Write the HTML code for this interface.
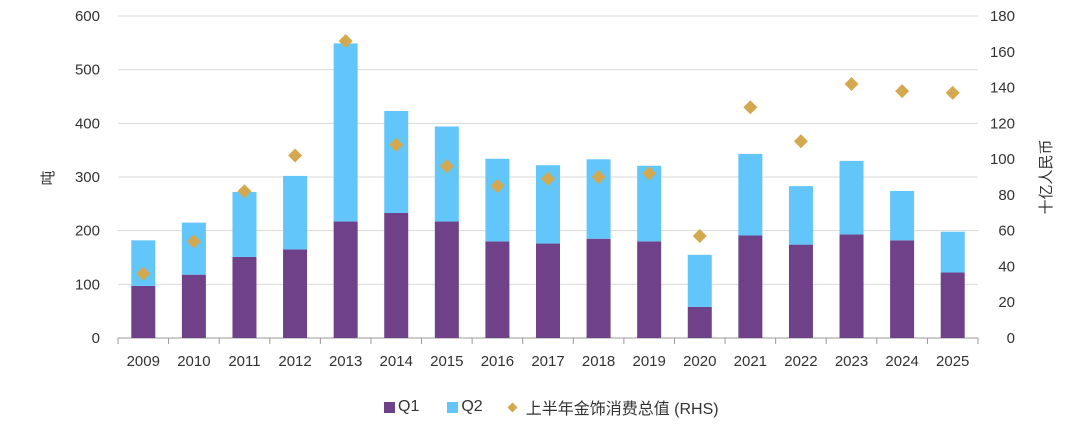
<!DOCTYPE html>
<html><head><meta charset="utf-8"><style>
body{margin:0;background:#fff;}
svg text{font-family:"Liberation Sans","Noto Sans CJK SC",sans-serif;fill:#333;}
</style></head><body>
<svg id="c" width="1068" height="423"></svg>
<script>
const years=["2009","2010","2011","2012","2013","2014","2015","2016","2017","2018","2019","2020","2021","2022","2023","2024","2025"];
const q1=[97,118,151,165,217,233,217,180,176,185,180,58,191,174,193,182,122];
const q2=[85,97,121,137,332,190,177,154,146,148,141,97,152,109,137,92,76];
const rhs=[36,54,82,102,166,108,96,85,89,90,92,57,129,110,142,138,137];
const leftTicks=[0,100,200,300,400,500,600];
const rightTicks=[0,20,40,60,80,100,120,140,160,180];
const NS="http://www.w3.org/2000/svg";
const svg=document.getElementById('c');
const X0=118,X1=978,Y0=338,Y1=16;
const step=(X1-X0)/years.length;
const xc=i=>X0+step*(i+0.5);
const yl=v=>Y0-(v/600)*(Y0-Y1);
const yr=v=>Y0-(v/180)*(Y0-Y1);
function mk(tag,attrs,parent){const e=document.createElementNS(NS,tag);for(const k in attrs)e.setAttribute(k,attrs[k]);(parent||svg).appendChild(e);return e;}
leftTicks.forEach(t=>{
  const g=mk('line',{x1:X0,x2:X1,y1:yl(t),y2:yl(t),stroke:t===0?'#999':'#d9d9d9','stroke-width':1});
  
  
  const tx=mk('text',{x:100,y:yl(t)+5,'text-anchor':'end','font-size':15});tx.textContent=t;
  
  
});
rightTicks.forEach(t=>{
  const tx=mk('text',{x:1015,y:yr(t)+5,'text-anchor':'end','font-size':15});tx.textContent=t;
  
  
});
years.forEach((y,i)=>{
  const bw=24,x=xc(i)-bw/2;
  const b1=mk('rect',{x:x,y:yl(q1[i]),width:bw,height:Y0-yl(q1[i]),fill:'#6f4189'});
  
  
  const b2=mk('rect',{x:x,y:yl(q1[i]+q2[i]),width:bw,height:yl(q1[i])-yl(q1[i]+q2[i]),fill:'#62c6fb'});
  
  
  const cy=yr(rhs[i]),cx=xc(i),s=7;
  const d=mk('polygon',{points:`${cx},${cy-s} ${cx+s},${cy} ${cx},${cy+s} ${cx-s},${cy}`,fill:'#d4a84e'});
  
  
  const tk=mk('line',{x1:X0+step*i,x2:X0+step*i,y1:Y0,y2:Y0+6,stroke:'#999'});
  
  
  const tx=mk('text',{x:cx,y:366,'text-anchor':'middle','font-size':15});tx.textContent=y;
  
  
});
const tl=mk('line',{x1:X1,x2:X1,y1:Y0,y2:Y0+6,stroke:'#999'});


const lt=mk('text',{x:0,y:0,'text-anchor':'middle','font-size':15,transform:'translate(53,178) rotate(-90)'});lt.textContent='吨';


const rt=mk('text',{x:0,y:0,'text-anchor':'middle','font-size':15,transform:'translate(1051,177) rotate(-90)'});rt.textContent='十亿人民币';


</script>
<div style="position:absolute;left:0;top:0;width:1068px;height:423px;pointer-events:none;font-family:'Liberation Sans','Noto Sans CJK SC',sans-serif;color:#333;">
  <div style="position:absolute;left:384px;top:395px;font-size:16px;display:flex;align-items:center;white-space:nowrap;">
    <span style="width:11px;height:11px;background:#6f4189;display:inline-block;margin-right:3px;"></span><span>Q1</span>
    <span style="width:11px;height:11px;background:#62c6fb;display:inline-block;margin:0 3px 0 28px;"></span><span>Q2</span>
    <span style="width:7px;height:7px;background:#d4a84e;display:inline-block;transform:rotate(45deg);margin:0 10px 0 26px;"></span><span>上半年金饰消费总值 (RHS)</span>
  </div>
</div>
</body></html>
